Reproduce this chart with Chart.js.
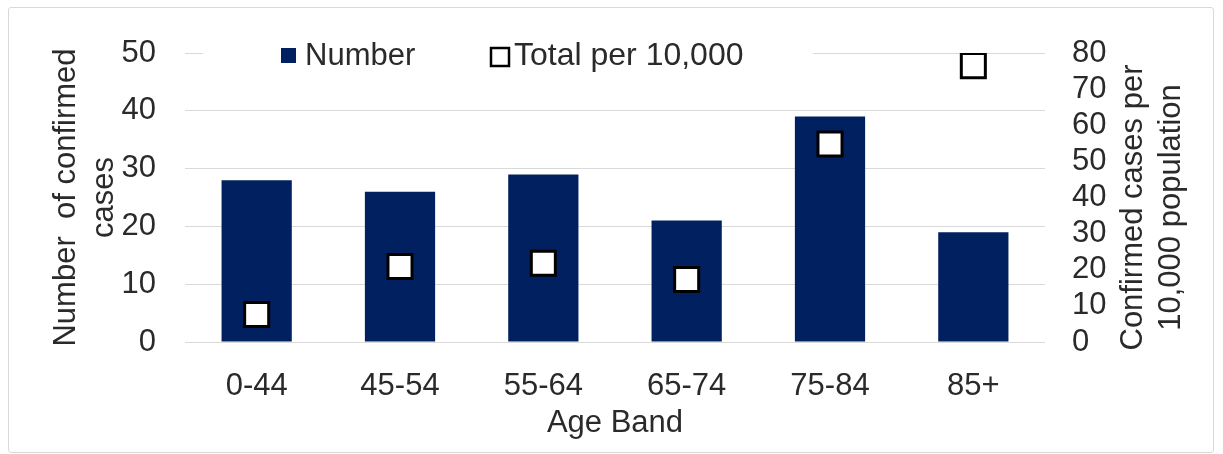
<!DOCTYPE html>
<html>
<head>
<meta charset="utf-8">
<script src="https://cdn.jsdelivr.net/npm/chart.js@4/dist/chart.umd.min.js"></script>
<style>
  html, body { margin: 0; padding: 0; background: #fff; }
  #wrap { position: relative; width: 1223px; height: 454px; }
  #frame {
    position: absolute; left: 8px; top: 7px; width: 1204px; height: 444px;
    border: 1px solid #d9d9d9; border-radius: 3px; pointer-events: none;
  }
</style>
</head>
<body>
<div id="wrap">
  <canvas id="ageChart" width="1223" height="454"></canvas>
  <div id="frame"></div>
</div>
<script>
const ageBands = ['0-44', '45-54', '55-64', '65-74', '75-84', '85+'];
const caseCounts = [28, 26, 29, 21, 39, 19];
const ratePer10k = [7.6, 20.9, 21.8, 17.3, 54.8, 76.5];
const leftAxisRange = { min: 0, max: 50, step: 10 };
const rightAxisRange = { min: 0, max: 80, step: 10 };
const seriesNames = ['Number', 'Total per 10,000'];
const leftTitle = ['Number  of confirmed', 'cases'];
const rightTitle = ['Confirmed cases per', '10,000 population'];
const xTitle = 'Age Band';

const NAVY = '#002060';
const TEXT = '#2a2a2a';
const GRID = '#d9d9d9';
const FONT = 'Liberation Sans, Arial, sans-serif';

// legend sits inside the plot, over the top gridline, and the right title reads bottom-up
const overlayPlugin = {
  id: 'overlay',
  afterDraw(chart) {
    const ctx = chart.ctx;
    const area = chart.chartArea;
    ctx.save();

    // legend
    ctx.fillStyle = '#fff';
    ctx.fillRect(203, area.top - 20, 610, 42);
    ctx.fillStyle = NAVY;
    ctx.fillRect(281, 48, 15, 15);
    ctx.fillStyle = '#fff';
    ctx.fillRect(491, 48, 18, 18);
    ctx.strokeStyle = '#000';
    ctx.lineWidth = 2.5;
    ctx.strokeRect(491, 48, 18, 18);
    ctx.fillStyle = TEXT;
    ctx.font = '31px ' + FONT;
    ctx.textBaseline = 'middle';
    ctx.textAlign = 'left';
    ctx.fillText(seriesNames[0], 305, 56);
    ctx.font = '32px ' + FONT;
    ctx.fillText(seriesNames[1], 514, 56);

    // right axis title
    const s = chart.scales.y1;
    const cy = (area.top + area.bottom) / 2 + 10;
    ctx.font = '31px ' + FONT;
    ctx.textAlign = 'center';
    rightTitle.forEach((line, i) => {
      ctx.save();
      ctx.translate(s.left + 88 + i * 38, cy);
      ctx.rotate(-Math.PI / 2);
      ctx.fillText(line, 0, 0);
      ctx.restore();
    });
    ctx.restore();
  }
};

new Chart(document.getElementById('ageChart'), {
  data: {
    labels: ageBands,
    datasets: [
      {
        type: 'bar',
        label: seriesNames[0],
        data: caseCounts,
        backgroundColor: NAVY,
        borderWidth: 0,
        categoryPercentage: 1,
        barPercentage: 0.49,
        yAxisID: 'y',
        order: 2
      },
      {
        type: 'line',
        label: seriesNames[1],
        data: ratePer10k,
        showLine: false,
        pointStyle: 'rect',
        pointRadius: 17,
        pointHoverRadius: 17,
        pointBackgroundColor: '#fff',
        pointBorderColor: '#000',
        pointBorderWidth: 3,
        yAxisID: 'y1',
        order: 1
      }
    ]
  },
  options: {
    responsive: false,
    animation: false,
    events: [],
    layout: { padding: { left: 0, right: 0, top: 53, bottom: 0 } },
    plugins: {
      legend: { display: false },
      tooltip: { enabled: false }
    },
    scales: {
      x: {
        grid: { display: false },
        border: { display: false },
        ticks: {
          color: TEXT,
          font: { family: FONT, size: 31 },
          padding: 18,
          maxRotation: 0,
          autoSkip: false
        },
        title: {
          display: true,
          text: xTitle,
          color: TEXT,
          font: { family: FONT, size: 31, lineHeight: 1.2 },
          padding: { top: 0, bottom: 12 }
        },
        afterFit: s => { s.height = 112; }
      },
      y: {
        position: 'left',
        min: leftAxisRange.min,
        max: leftAxisRange.max,
        grid: { color: GRID, lineWidth: 1, drawTicks: false },
        border: { display: false },
        ticks: {
          stepSize: leftAxisRange.step,
          color: TEXT,
          font: { family: FONT, size: 31 },
          padding: 29,
          autoSkip: false
        },
        title: {
          display: true,
          text: leftTitle,
          color: TEXT,
          font: { family: FONT, size: 31, lineHeight: 1.23 },
          padding: { top: 47, bottom: 0 }
        },
        afterFit: s => { s.width = 185; }
      },
      y1: {
        position: 'right',
        min: rightAxisRange.min,
        max: rightAxisRange.max,
        grid: { drawOnChartArea: false, drawTicks: false },
        border: { display: false },
        ticks: {
          stepSize: rightAxisRange.step,
          color: TEXT,
          font: { family: FONT, size: 31 },
          padding: 27,
          autoSkip: false
        },
        afterFit: s => { s.width = 178; }
      }
    }
  },
  plugins: [overlayPlugin]
});
</script>
</body>
</html>
